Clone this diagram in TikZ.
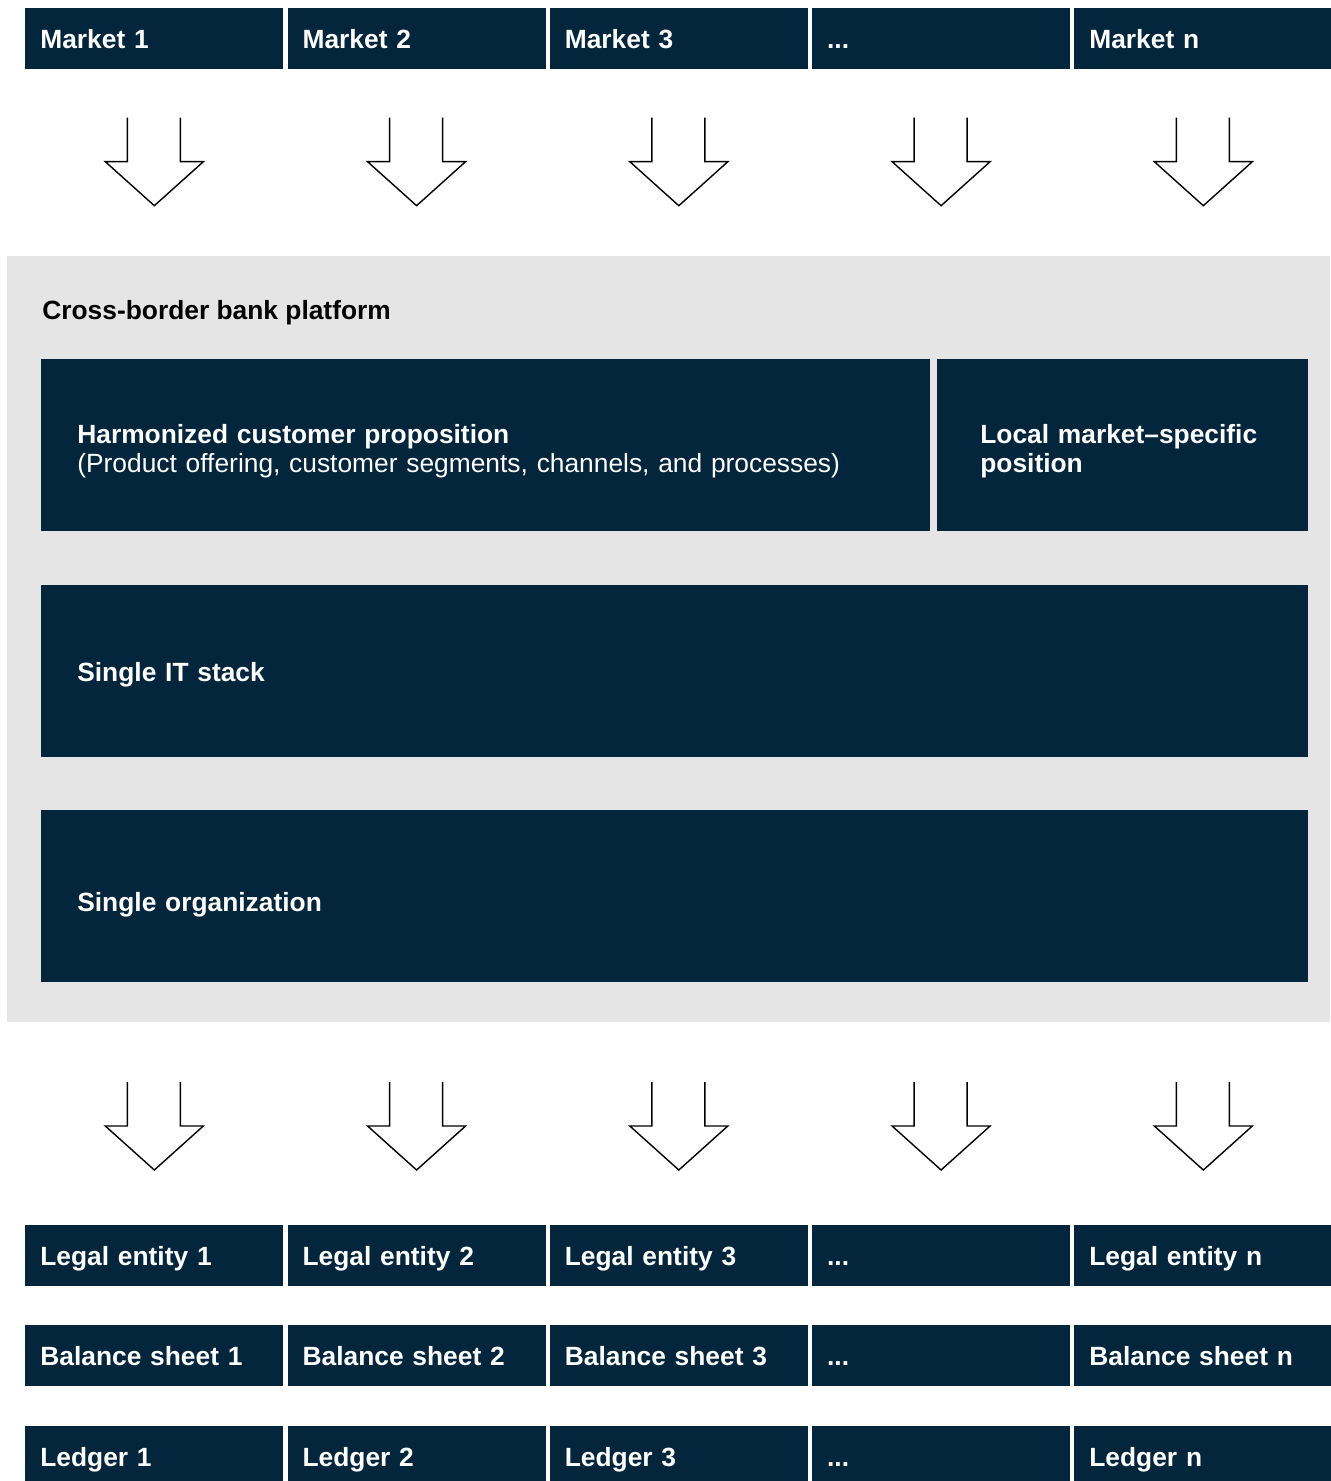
\documentclass[tikz,border=0pt]{standalone}
\usepackage{fontspec}
\setmainfont{Liberation Sans}
\usepackage{xcolor}
\usepackage{tikz}
\usetikzlibrary{calc,positioning}
\definecolor{navyx}{HTML}{03263C}
\definecolor{greybg}{HTML}{E5E5E5}
\tikzset{
  cell/.style={fill=navyx,text=white,font=\bfseries\fontsize{15pt}{17pt}\selectfont,minimum width=5.16cm,minimum height=1.22cm,inner xsep=0.3cm,inner ysep=0pt,text width=4.56cm,text height=12.5pt,text depth=2pt,align=left,anchor=north west},
  band/.style={fill=navyx,text=white,font=\fontsize{15pt}{16.6pt}\selectfont,minimum height=3.44cm,inner xsep=0.72cm,inner ysep=0pt,align=left,anchor=north west},
  arr/.style={black,line width=0.8pt}
}
\newcommand{\etcx}{...}
\newcommand{\downarr}[1]{%
  \draw[arr] ($(#1)+(-27,0)$) -- ++(0,44) -- ++(-22,0) -- ($(#1)+(0,88)$) -- ($(#1)+(49,44)$) -- ++(-23,0) -- ++(0,-44);}

\begin{document}
\begin{tikzpicture}[x=0.02cm,y=-0.02cm]
\useasboundingbox (0,0) rectangle (1330,1481);
% markets
\foreach \i/\lab in {1/Market 1,2/Market 2,3/Market 3,4/\etcx,5/Market n}{
  \node[cell] (m\i) at ({25+262.25*(\i-1)},8) {\lab};
  \coordinate (t\i) at ($(m\i.south)+(0,48)$);
  \downarr{t\i}
}
% platform
\node[fill=greybg,minimum width=26.46cm,minimum height=15.32cm,inner sep=0pt,anchor=north west] (plat) at (7,256) {};
\node[font=\bfseries\fontsize{15pt}{17pt}\selectfont,inner sep=0pt,anchor=west] (ttl) at (42,313) {Cross-border bank platform};
\node[band,minimum width=17.78cm,text width=16.34cm,text height=14.4pt,text depth=16.4pt] (harm) at (41,359) {\textbf{Harmonized customer proposition}\\(Product offering, customer segments, channels, and processes)};
\node[band,minimum width=7.42cm,inner xsep=0.86cm,text width=5.7cm,text height=14.4pt,text depth=16.4pt,font=\bfseries\fontsize{15pt}{16.6pt}\selectfont] (local) at (937,359) {Local market–specific\\position};
\node[band,minimum width=25.34cm,text width=23.9cm,text height=14.4pt,text depth=3.2pt,font=\bfseries\fontsize{15pt}{17pt}\selectfont] (itst) at (41,585) {Single IT stack};
\node[band,minimum width=25.34cm,text width=23.9cm,text height=20pt,text depth=3.2pt,font=\bfseries\fontsize{15pt}{17pt}\selectfont] (org) at (41,810) {Single organization};
% entities
\foreach \i/\lab in {1/Legal entity 1,2/Legal entity 2,3/Legal entity 3,4/\etcx,5/Legal entity n}{
  \node[cell] (l\i) at ({25+262.25*(\i-1)},1225) {\lab};
  \coordinate (b\i) at ($(l\i.north)+(0,-143)$);
  \downarr{b\i}
}
\foreach \i/\lab in {1/Balance sheet 1,2/Balance sheet 2,3/Balance sheet 3,4/\etcx,5/Balance sheet n}
  \node[cell] (s\i) at ({25+262.25*(\i-1)},1325) {\lab};
\foreach \i/\lab in {1/Ledger 1,2/Ledger 2,3/Ledger 3,4/\etcx,5/Ledger n}
  \node[cell] (g\i) at ({25+262.25*(\i-1)},1426) {\lab};
\end{tikzpicture}
\end{document}
